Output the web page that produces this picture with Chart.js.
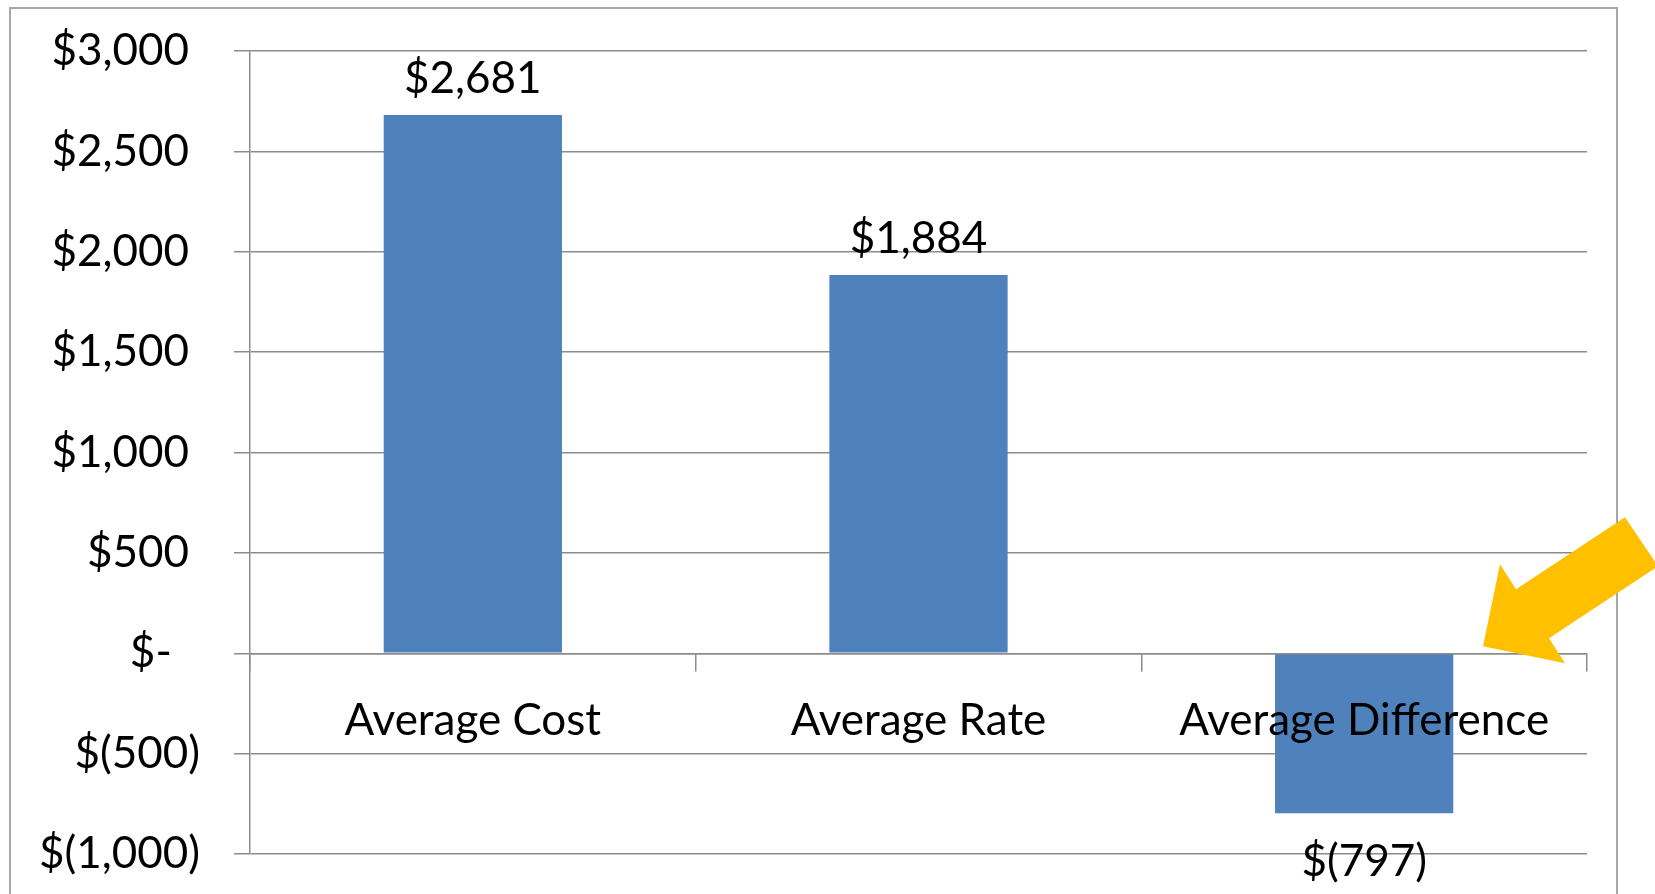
<!DOCTYPE html>
<html><head><meta charset="utf-8">
<script src="https://cdn.jsdelivr.net/npm/chart.js@4/dist/chart.umd.min.js"></script>
<style>html,body{margin:0;padding:0;background:#fff;overflow:hidden}#wrap{position:relative;width:1655px;height:894px}</style>
</head><body><div id="wrap"><canvas id="c" width="1655" height="894"></canvas></div>
<script>
// ---- data ----
const categories = ["Average Cost", "Average Rate", "Average Difference"];
const values = [2681, 1884, -797];
const yTickLabels = ["$(1,000)", "$(500)", "$-", "$500", "$1,000", "$1,500", "$2,000", "$2,500", "$3,000"];
const yMin = -1000, yMax = 3000, yStep = 500;

// ---- style ----
const FONT = "Lato, 'Open Sans', sans-serif";
const FS = 44;
const GRID = "#8c8c8c";
const BAR = "#4F81BD";

function fmtMoney(v) {
  const s = Math.abs(v).toLocaleString("en-US");
  return v < 0 ? "$(" + s + ")" : "$" + s;
}
function padTick(lbl) {
  if (lbl.endsWith(")")) return lbl;
  if (lbl === "$-") return lbl + "\u2007\u200A";
  return lbl + "\u2005";
}

const framePlugin = {
  id: "frame",
  beforeDraw(chart) {
    const ctx = chart.ctx;
    ctx.save();
    ctx.fillStyle = "#fff";
    ctx.fillRect(0, 0, chart.width, chart.height);
    ctx.strokeStyle = "#a6a6a6";
    ctx.lineWidth = 2;
    ctx.strokeRect(10, 8, chart.chartArea.right + 30 - 10, chart.height + 20);
    ctx.restore();
  }
};

const valueLabelPlugin = {
  id: "valueLabels",
  afterDatasetsDraw(chart) {
    const ctx = chart.ctx;
    const meta = chart.getDatasetMeta(0);
    ctx.save();
    ctx.font = FS + "px " + FONT;
    ctx.fillStyle = "#000";
    ctx.textAlign = "center";
    ctx.textBaseline = "alphabetic";
    meta.data.forEach((bar, i) => {
      const v = chart.data.datasets[0].data[i];
      const txt = fmtMoney(v);
      if (v >= 0) ctx.fillText(txt, bar.x, bar.y - 22);
      else ctx.fillText(txt, bar.x, bar.y + 63);
    });
    ctx.restore();
  }
};

const arrowPlugin = {
  id: "arrow",
  afterDraw(chart) {
    const ctx = chart.ctx;
    const ox = chart.chartArea.right;
    const oy = chart.scales.y.getPixelForValue(0);
    const pts = [[-104, -7], [-87, -89], [-71, -64], [38, -136], [71, -87], [-38, -15], [-22, 10]];
    ctx.save();
    ctx.fillStyle = "#FFC000";
    ctx.beginPath();
    pts.forEach((p, i) => i ? ctx.lineTo(ox + p[0], oy + p[1]) : ctx.moveTo(ox + p[0], oy + p[1]));
    ctx.closePath();
    ctx.fill();
    ctx.restore();
  }
};

new Chart(document.getElementById("c"), {
  type: "bar",
  data: {
    labels: categories,
    datasets: [{
      data: values,
      backgroundColor: BAR,
      borderWidth: 0,
      barPercentage: 0.4,
      categoryPercentage: 1.0
    }]
  },
  options: {
    responsive: false,
    animation: false,
    events: [],
    layout: { padding: { left: 0, top: 51, right: 68, bottom: 40 } },
    plugins: { legend: { display: false }, tooltip: { enabled: false } },
    scales: {
      x: {
        position: { y: 0 },
        offset: true,
        grid: { display: true, drawOnChartArea: false, drawTicks: true, tickLength: 17, color: GRID, lineWidth: 1.5, offset: true, z: 1 },
        border: { display: true, color: GRID, width: 1.5, z: 1 },
        ticks: { z: 2, font: { family: FONT, size: FS }, color: "#000", padding: 24, maxRotation: 0, autoSkip: false }
      },
      y: {
        min: yMin, max: yMax,
        afterFit(scale) { scale.width = 250; scale.paddingTop = 0; scale.paddingBottom = 0; },
        grid: { color: GRID, lineWidth: 1.5, tickLength: 16, drawTicks: true },
        border: { display: true, color: GRID, width: 1.5 },
        ticks: {
          stepSize: yStep,
          font: { family: FONT, size: FS }, color: "#000", padding: 34,
          callback: (v, i) => padTick(yTickLabels[i])
        }
      }
    }
  },
  plugins: [framePlugin, valueLabelPlugin, arrowPlugin]
});
</script></body></html>
